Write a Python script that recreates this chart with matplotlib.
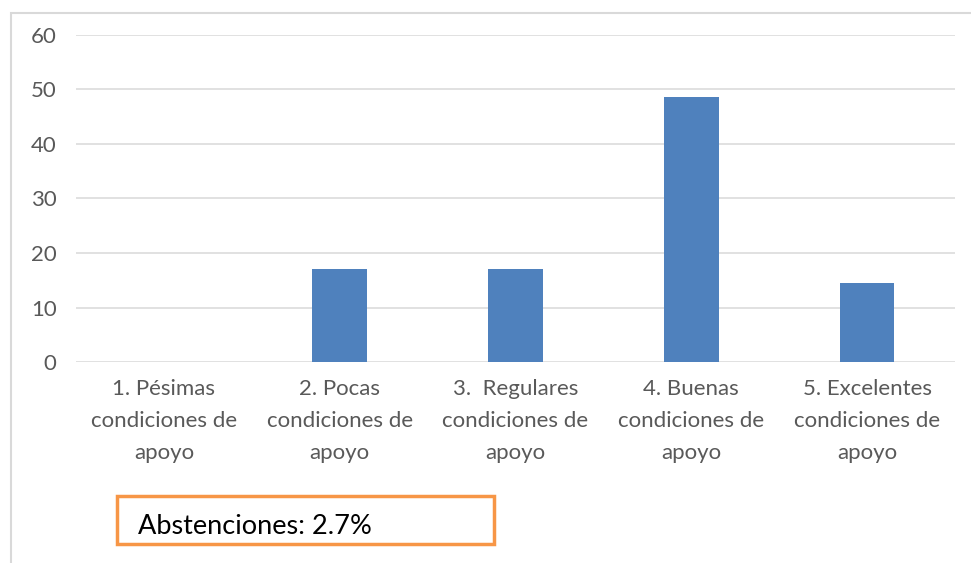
import numpy as np
import matplotlib.pyplot as plt
from matplotlib.patches import Rectangle

# categorias y porcentajes
categorias = ["1. Pésimas\ncondiciones de\napoyo",
              "2. Pocas\ncondiciones de\napoyo",
              "3.  Regulares\ncondiciones de\napoyo",
              "4. Buenas\ncondiciones de\napoyo",
              "5. Excelentes\ncondiciones de\napoyo"]
valores = [0, 17.1, 17.1, 48.6, 14.5]
abstenciones = 2.7

plt.rcParams['font.family'] = ['Lato', 'DejaVu Sans']

fig = plt.figure(figsize=(9.71, 5.63), dpi=100)
ax = fig.add_axes([76/971, 0.3565, (955-76)/971, 0.9384-0.3565])

x = np.arange(len(categorias))
ax.bar(x, valores, width=0.31, color="#4f81bd", zorder=3)

ax.set_xlim(-0.5, len(categorias)-0.5)
ax.set_ylim(0, 60)
ax.set_yticks(range(0, 61, 10))
ax.yaxis.grid(True, color="#d9d9d9", linewidth=1.1, zorder=0)
ax.set_xticks(x)
ax.set_xticklabels(categorias, fontsize=16, color="#595959", linespacing=1.74)
ax.tick_params(axis="y", labelsize=16, labelcolor="#595959", length=0, pad=14)
ax.tick_params(axis="x", length=0, pad=12)
for s in ax.spines.values():
    s.set_visible(False)

# borde del grafico
fig.patches.append(Rectangle((11/971, -0.2), 1.2, (563-13)/563 + 0.2,
                             transform=fig.transFigure, fill=False,
                             edgecolor="#d9d9d9", linewidth=1.5))

# recuadro de abstenciones
fig.patches.append(Rectangle((117/971, (563-544)/563), (494-117)/971, (544-496)/563,
                             transform=fig.transFigure, fill=False,
                             edgecolor="#f79646", linewidth=2.5))
fig.text(138/971, (563-526)/563, "Abstenciones: %.1f%%" % abstenciones,
         fontsize=19.5, color="black", va="center", ha="left")

plt.savefig("out.png", dpi=100)
